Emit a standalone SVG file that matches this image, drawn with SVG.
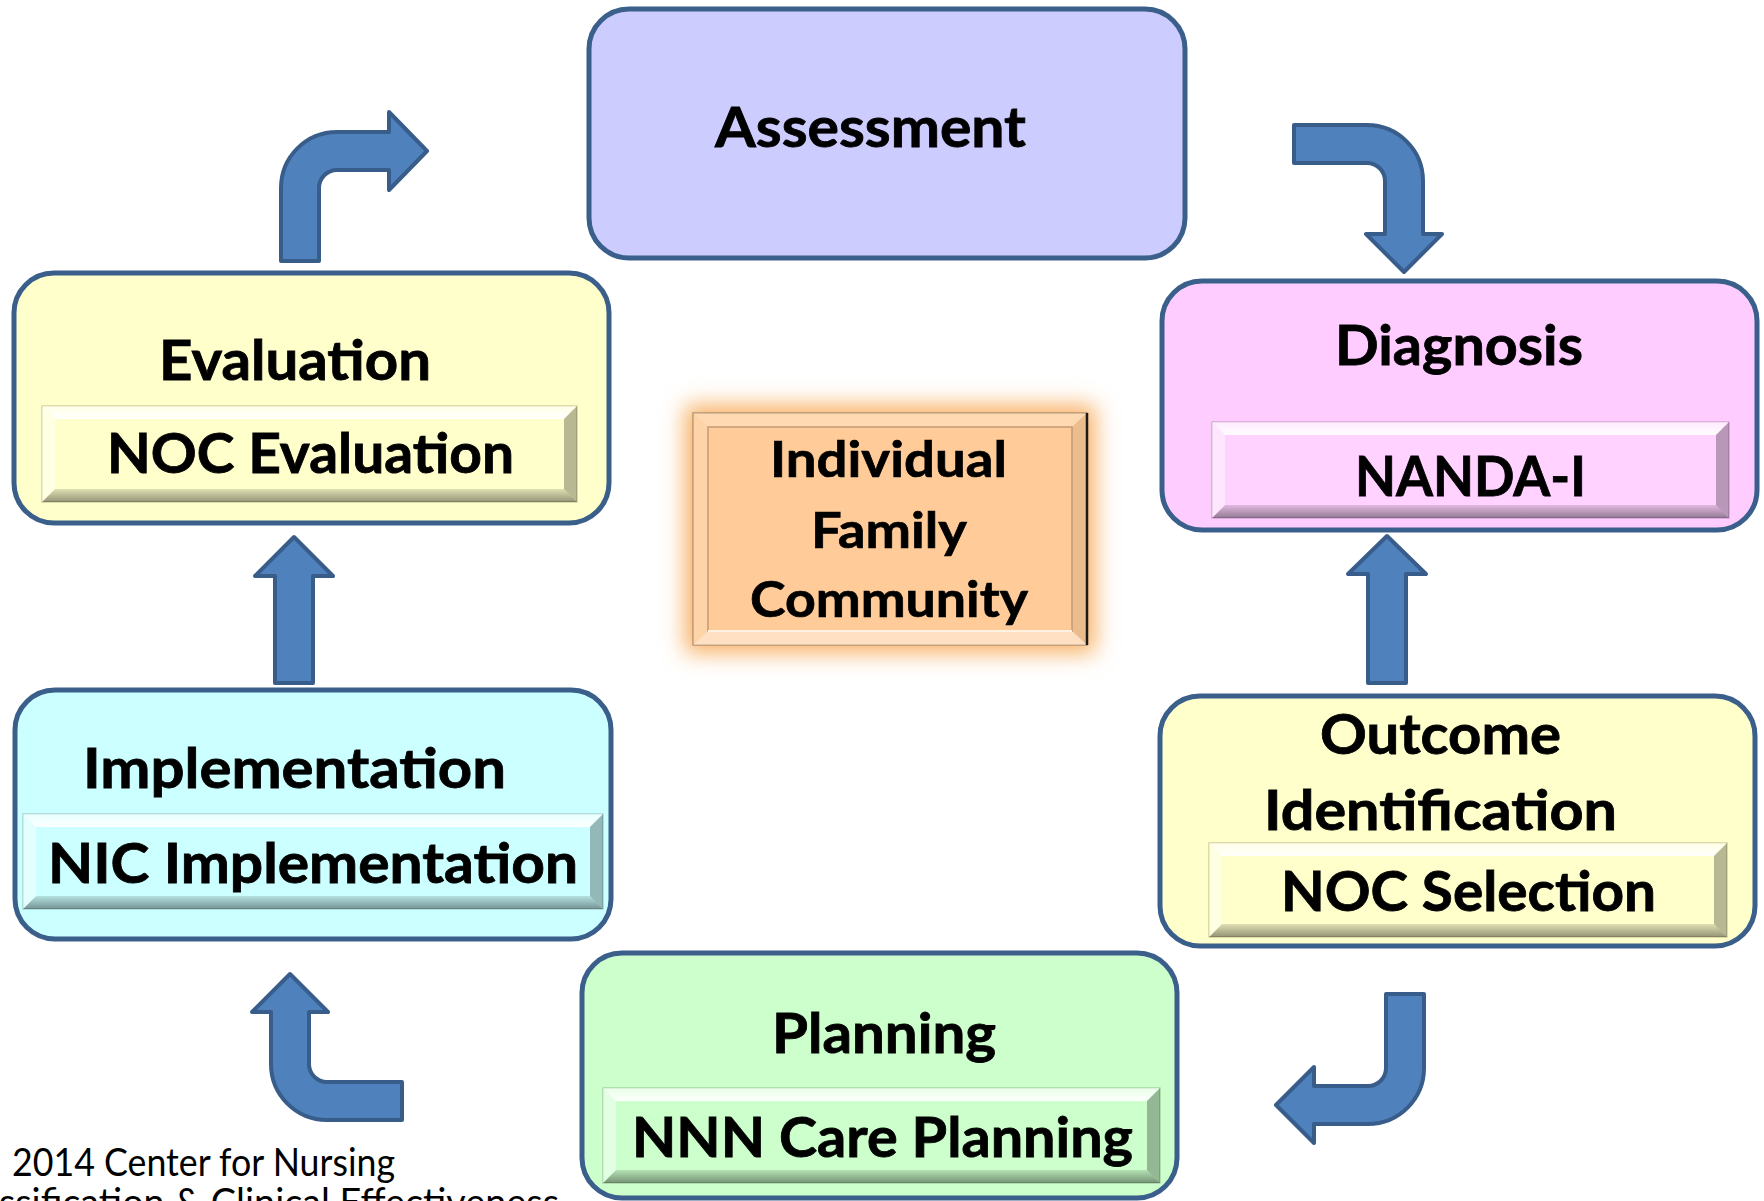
<svg xmlns="http://www.w3.org/2000/svg" width="1764" height="1201" viewBox="0 0 1764 1201">
<style>
.box{stroke:#3a5f8b;stroke-width:5}
.inner{stroke-width:1.2}
.lbl{font-family:Lato,"Open Sans","Liberation Sans",sans-serif;font-weight:700;font-size:56px;fill:#000;stroke:#000;stroke-width:0.8}
.ctr{font-family:Lato,"Open Sans","Liberation Sans",sans-serif;font-weight:700;font-size:50px;fill:#000;stroke:#000;stroke-width:0.7}
.copy{font-family:Lato,"Open Sans","Liberation Sans",sans-serif;font-weight:400;font-size:38px;fill:#000}
.arrow{fill:#4f81bd;stroke:#385d8a;stroke-width:4;stroke-linejoin:round}
.bt{fill:url(#gTop)}
.bb{fill:url(#gBot)}
.bl{fill:#ffffff;fill-opacity:0.45}
.br{fill:#000000;fill-opacity:0.28}
</style>
<defs>
<linearGradient id="gTop" x1="0" y1="0" x2="0" y2="1"><stop offset="0" stop-color="#fff" stop-opacity="0.55"/><stop offset="1" stop-color="#fff" stop-opacity="0.95"/></linearGradient>
<linearGradient id="gBot" x1="0" y1="0" x2="0" y2="1"><stop offset="0" stop-color="#000" stop-opacity="0.12"/><stop offset="1" stop-color="#000" stop-opacity="0.42"/></linearGradient>
<filter id="glow" x="-25%" y="-25%" width="150%" height="150%"><feGaussianBlur stdDeviation="11"/></filter>
</defs>

<g id="connectors">
<path class="arrow" d="M281,261 L281,188 A56,56 0 0 1 337,132 L389,132 L389,112 L427,151 L389,190 L389,170 L337,170 A18,18 0 0 0 319,188 L319,261 Z"/>
<path class="arrow" d="M1294,125 L1367,125 A56,56 0 0 1 1423,181 L1423,234 L1442,234 L1404,272 L1366,234 L1385,234 L1385,181 A18,18 0 0 0 1367,163 L1294,163 Z"/>
<path class="arrow" d="M1368,683 L1368,574 L1348,574 L1387,536 L1426,574 L1406,574 L1406,683 Z"/>
<path class="arrow" d="M275,683 L275,576 L255,576 L294,537 L333,576 L313,576 L313,683 Z"/>
<path class="arrow" d="M1386,994 L1424,994 L1424,1068 A56,56 0 0 1 1368,1124 L1314,1124 L1314,1143 L1276,1105 L1314,1067 L1314,1086 L1368,1086 A18,18 0 0 0 1386,1068 Z"/>
<path class="arrow" d="M402,1120 L327,1120 A56,56 0 0 1 271,1064 L271,1012 L252,1012 L290,974 L328,1012 L309,1012 L309,1064 A18,18 0 0 0 327,1082 L402,1082 Z"/>
</g>

<g id="assessment">
<rect class="box" x="589" y="9" width="596" height="249" rx="40" fill="#ccccff"/>
<text class="lbl" x="715" y="147" textLength="311" lengthAdjust="spacingAndGlyphs">Assessment</text>
</g>

<g id="evaluation">
<rect class="box" x="14" y="273" width="595" height="250" rx="40" fill="#ffffcc"/>
<text class="lbl" x="159" y="380" textLength="272" lengthAdjust="spacingAndGlyphs">Evaluation</text>
<rect class="inner" x="42" y="406" width="535" height="96" fill="#ffffcc" stroke="#c9c78e"/>
<polygon class="bt" points="42,406 577,406 564,419 55,419"/>
<polygon class="bb" points="42,502 577,502 564,489 55,489"/>
<polygon class="bl" points="42,406 55,419 55,489 42,502"/>
<polygon class="br" points="577,406 564,419 564,489 577,502"/>
<text class="lbl" x="107" y="473" textLength="407" lengthAdjust="spacingAndGlyphs">NOC Evaluation</text>
</g>

<g id="diagnosis">
<rect class="box" x="1162" y="281" width="595" height="249" rx="40" fill="#ffccff"/>
<text class="lbl" x="1335" y="365" textLength="248" lengthAdjust="spacingAndGlyphs">Diagnosis</text>
<rect class="inner" x="1212" y="422" width="517" height="96" fill="#ffd2ff" stroke="#c99bc9"/>
<polygon class="bt" points="1212,422 1729,422 1716,435 1225,435"/>
<polygon class="bb" points="1212,518 1729,518 1716,505 1225,505"/>
<polygon class="bl" points="1212,422 1225,435 1225,505 1212,518"/>
<polygon class="br" points="1729,422 1716,435 1716,505 1729,518"/>
<text class="lbl" x="1355" y="496" textLength="231" lengthAdjust="spacingAndGlyphs">NANDA-I</text>
</g>

<g id="implementation">
<rect class="box" x="15" y="690" width="596" height="249" rx="40" fill="#ccffff"/>
<text class="lbl" x="83" y="788" textLength="423" lengthAdjust="spacingAndGlyphs">Implementation</text>
<rect class="inner" x="23" y="814" width="580" height="95" fill="#ccffff" stroke="#9cc9c9"/>
<polygon class="bt" points="23,814 603,814 590,827 36,827"/>
<polygon class="bb" points="23,909 603,909 590,896 36,896"/>
<polygon class="bl" points="23,814 36,827 36,896 23,909"/>
<polygon class="br" points="603,814 590,827 590,896 603,909"/>
<text class="lbl" x="48" y="883" textLength="530" lengthAdjust="spacingAndGlyphs">NIC Implementation</text>
</g>

<g id="outcome">
<rect class="box" x="1160" y="696" width="595" height="250" rx="40" fill="#ffffcc"/>
<text class="lbl" x="1320" y="754" textLength="241" lengthAdjust="spacingAndGlyphs">Outcome</text>
<text class="lbl" x="1264" y="830" textLength="353" lengthAdjust="spacingAndGlyphs">Identification</text>
<rect class="inner" x="1209" y="843" width="518" height="94" fill="#ffffcc" stroke="#c9c78e"/>
<polygon class="bt" points="1209,843 1727,843 1714,856 1222,856"/>
<polygon class="bb" points="1209,937 1727,937 1714,924 1222,924"/>
<polygon class="bl" points="1209,843 1222,856 1222,924 1209,937"/>
<polygon class="br" points="1727,843 1714,856 1714,924 1727,937"/>
<text class="lbl" x="1281" y="911" textLength="375" lengthAdjust="spacingAndGlyphs">NOC Selection</text>
</g>

<g id="planning">
<rect class="box" x="582" y="953" width="595" height="245" rx="40" fill="#ccffcc"/>
<text class="lbl" x="772" y="1053" textLength="224" lengthAdjust="spacingAndGlyphs">Planning</text>
<rect class="inner" x="603" y="1088" width="557" height="95" fill="#ccffcc" stroke="#9cc99c"/>
<polygon class="bt" points="603,1088 1160,1088 1147,1101 616,1101"/>
<polygon class="bb" points="603,1183 1160,1183 1147,1170 616,1170"/>
<polygon class="bl" points="603,1088 616,1101 616,1170 603,1183"/>
<polygon class="br" points="1160,1088 1147,1101 1147,1170 1160,1183"/>
<text class="lbl" x="632" y="1157" textLength="501" lengthAdjust="spacingAndGlyphs">NNN Care Planning</text>
</g>

<g id="client">
<rect x="685" y="405" width="410" height="248" fill="#f8b064" filter="url(#glow)"/>
<rect x="693" y="413" width="394" height="232" fill="#ffcc99" stroke="#b8926e" stroke-width="1.5"/>
<polygon points="693,413 1087,413 1072,427 708,427" fill="#fff" fill-opacity="0.25"/>
<polygon points="693,413 708,427 708,631 693,645" fill="#fff" fill-opacity="0.15"/>
<polygon points="693,645 1087,645 1072,631 708,631" fill="#fff" fill-opacity="0.4"/>
<polygon points="1087,413 1072,427 1072,631 1087,645" fill="#000" fill-opacity="0.08"/>
<line x1="1087" y1="413" x2="1087" y2="645" stroke="#1a1a1a" stroke-width="2.5"/>
<rect x="708" y="427" width="364" height="204" fill="none" stroke="#c49a74" stroke-width="1.5"/>
<line x1="708" y1="631" x2="1072" y2="631" stroke="#fff2e0" stroke-width="2"/>
<text class="ctr" x="770" y="477" textLength="237" lengthAdjust="spacingAndGlyphs">Individual</text>
<text class="ctr" x="811" y="548" textLength="156" lengthAdjust="spacingAndGlyphs">Family</text>
<text class="ctr" x="750" y="617" textLength="278" lengthAdjust="spacingAndGlyphs">Community</text>
</g>

<g id="copyright">
<text class="copy" x="12" y="1176" textLength="383" lengthAdjust="spacingAndGlyphs">2014 Center for Nursing</text>
<text class="copy" x="-54" y="1216" textLength="613" lengthAdjust="spacingAndGlyphs">Classification &amp; Clinical Effectiveness</text>
</g>
</svg>
